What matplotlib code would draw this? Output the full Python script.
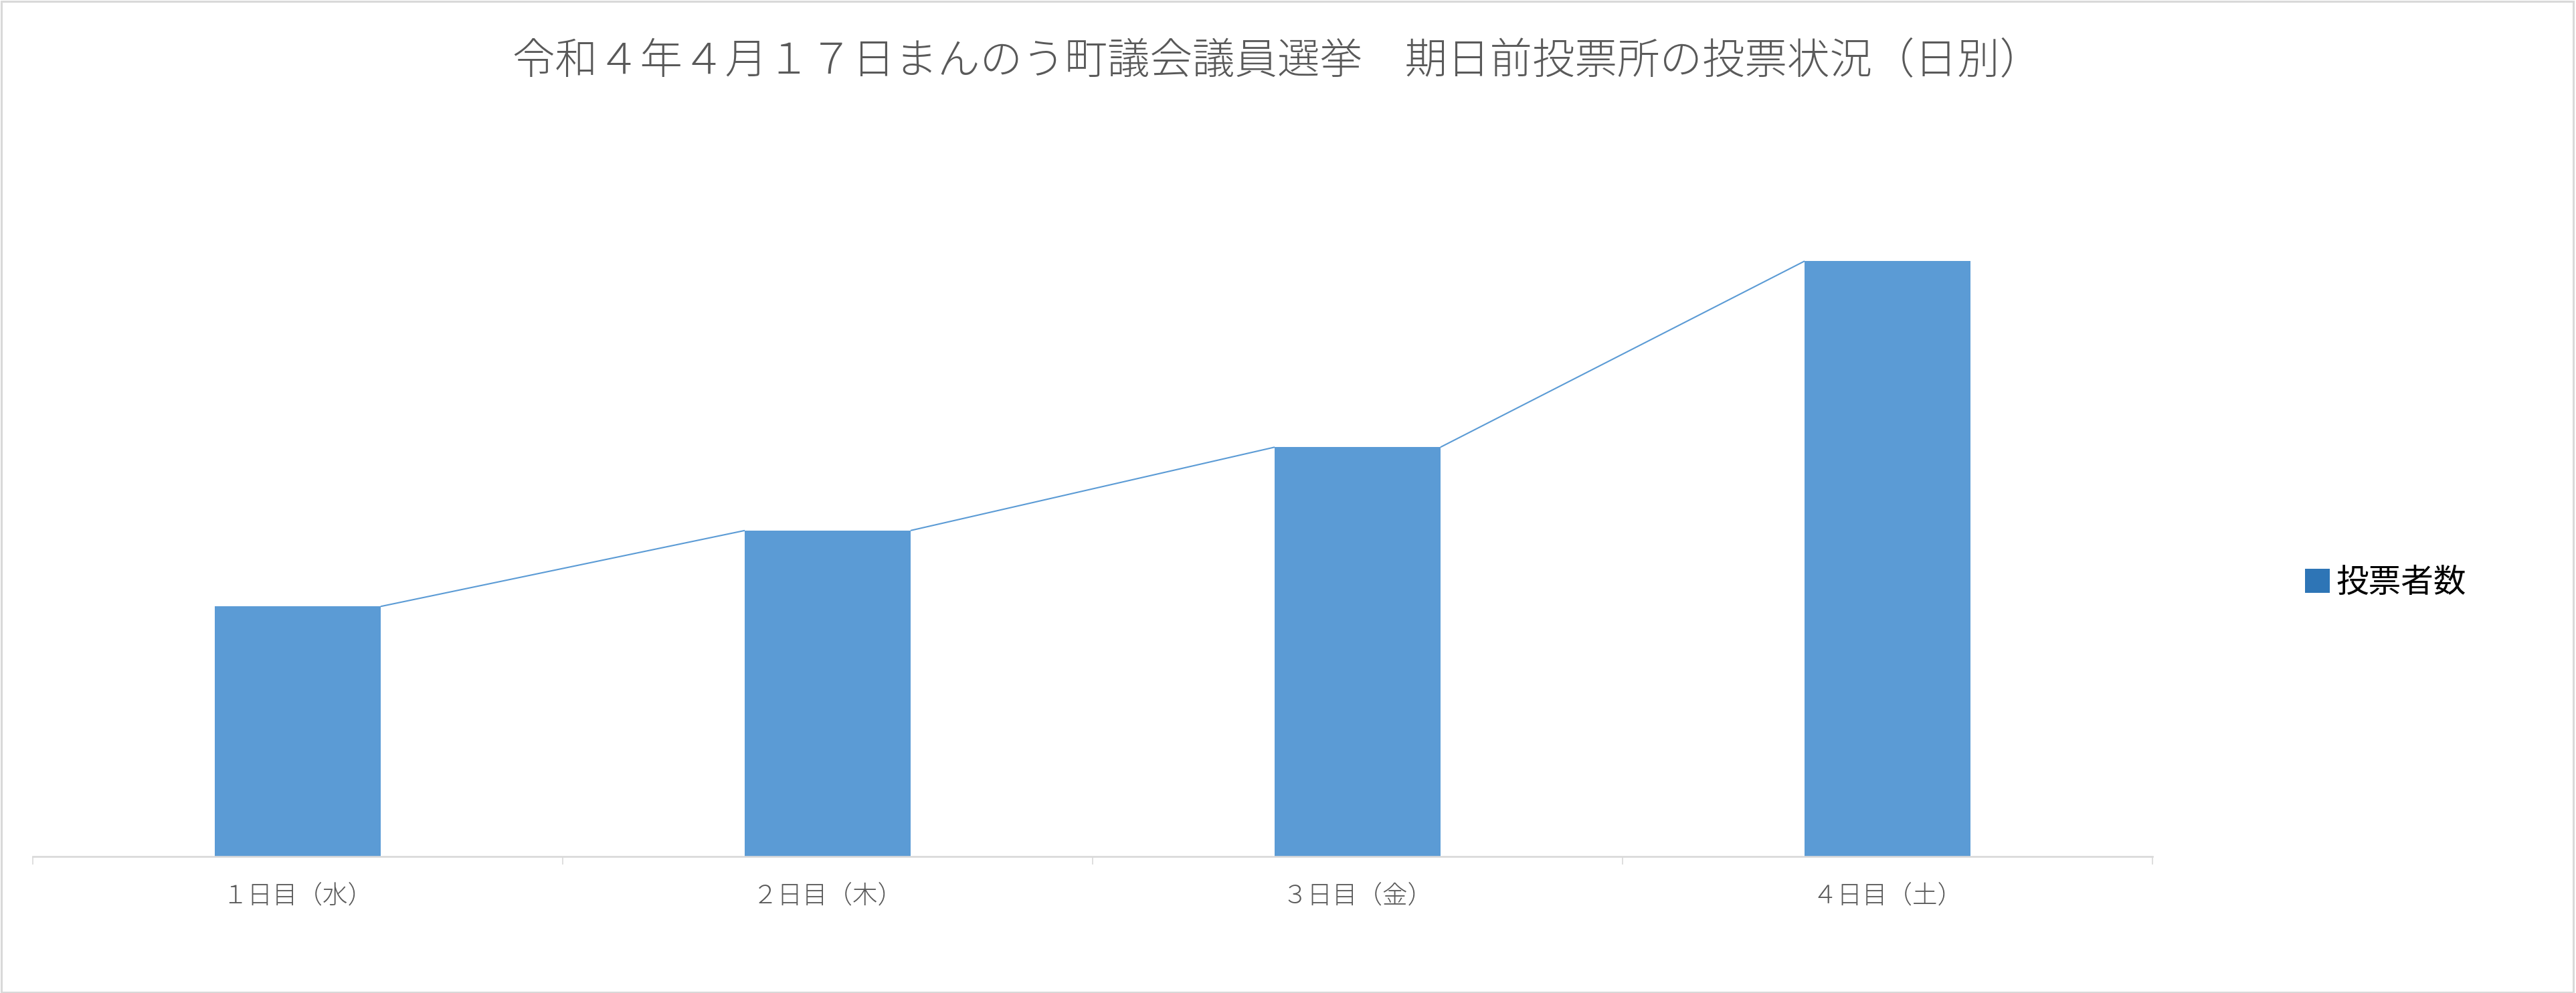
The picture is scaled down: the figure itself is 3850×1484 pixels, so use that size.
import matplotlib
matplotlib.use("Agg")
import matplotlib.pyplot as plt
from matplotlib.patches import Patch, Rectangle

plt.rcParams['font.family'] = ['Noto Sans CJK JP', 'DejaVu Sans']

# ---- data ----
title = "令和４年４月１７日まんのう町議会議員選挙　期日前投票所の投票状況（日別）"
categories = ["１日目（水）", "２日目（木）", "３日目（金）", "４日目（土）"]
series_name = "投票者数"
values = [168, 219, 275, 400]

bar_color = "#5B9BD5"
legend_color = "#2E75B6"
grid_gray = "#D9D9D9"
text_gray = "#595959"

W, H, DPI = 3850, 1484, 100
fig = plt.figure(figsize=(W / DPI, H / DPI), dpi=DPI)
fig.patch.set_facecolor("white")

ax_left = 49 / W
ax_right = 3217 / W
ax_bottom = (H - 1280) / H
ax_top = (H - 279) / H
ax = fig.add_axes([ax_left, ax_bottom, ax_right - ax_left, ax_top - ax_bottom])

x = list(range(len(categories)))
bw = 0.313
ax.bar(x, values, width=bw, color=bar_color, zorder=2)

# series lines (right edge of bar i top -> left edge of bar i+1 top)
for i in range(len(values) - 1):
    ax.plot([x[i] + bw / 2, x[i + 1] - bw / 2], [values[i], values[i + 1]],
            color=bar_color, lw=1.5, solid_capstyle="butt", zorder=3)

ax.set_xlim(-0.5, len(categories) - 0.5)
ax.set_ylim(0, 450)

for s in ["top", "right", "left"]:
    ax.spines[s].set_visible(False)
ax.spines["bottom"].set_color(grid_gray)
ax.spines["bottom"].set_linewidth(1.9)
ax.set_yticks([])

ax.set_xticks([i - 0.5 for i in range(len(categories) + 1)])
ax.set_xticklabels([])
ax.tick_params(axis="x", which="major", length=8.6, width=1.2, color=grid_gray, direction="out")
ax.set_xticks(x, minor=True)
ax.set_xticklabels(categories, minor=True, fontsize=27, color=text_gray, fontweight="light")
ax.tick_params(axis="x", which="minor", length=0, pad=29)

fig.text(1909 / W, 1 - 93 / H, title, ha="center", va="center",
         fontsize=45.7, color=text_gray, fontweight="light")

handles = [Patch(facecolor=legend_color, edgecolor="none", label=series_name)]
fig.legend(handles=handles, loc="center left",
           bbox_to_anchor=(3445 / W, 1 - 871 / H), frameon=False,
           fontsize=35, handlelength=0.76, handleheight=0.76,
           handletextpad=0.2, borderpad=0, borderaxespad=0)

fig.add_artist(Rectangle((0.0004, 0.001), 0.9985, 0.9975, transform=fig.transFigure,
                         fill=False, edgecolor=grid_gray, lw=2.2))

fig.savefig("out.png", dpi=DPI, facecolor="white")
